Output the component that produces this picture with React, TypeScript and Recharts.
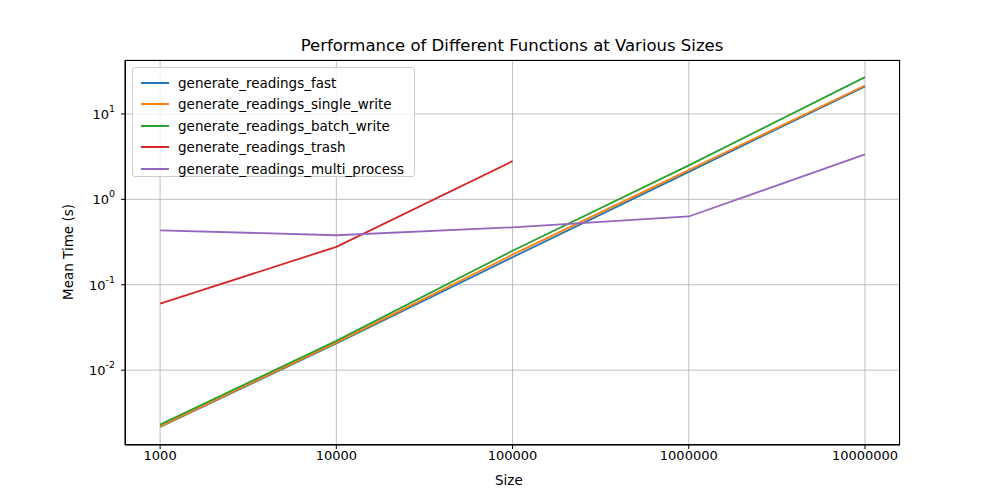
import { CartesianGrid, Line, LineChart, XAxis, YAxis } from 'recharts'

const sizes = [1000, 10000, 100000, 1000000, 10000000]
const fast = [0.00216, 0.0205, 0.21, 2.1, 21]
const singleWrite = [0.0022, 0.021, 0.225, 2.2, 21.5]
const batchWrite = [0.0023, 0.022, 0.25, 2.5, 27]
const trash = [0.06, 0.278, 2.8, null, null]
const multiProcess = [0.434, 0.38, 0.47, 0.63, 3.36]
const yTicks = [0.01, 0.1, 1, 10]

const series = [
  { key: 'fast', name: 'generate_readings_fast', color: '#1f77b4', values: fast },
  { key: 'single', name: 'generate_readings_single_write', color: '#ff7f0e', values: singleWrite },
  { key: 'batch', name: 'generate_readings_batch_write', color: '#2ca02c', values: batchWrite },
  { key: 'trash', name: 'generate_readings_trash', color: '#d62728', values: trash },
  { key: 'multi', name: 'generate_readings_multi_process', color: '#9467bd', values: multiProcess },
]

const data = sizes.map((size, i) => {
  const row: Record<string, number | null> = { size }
  series.forEach((s) => (row[s.key] = s.values[i]))
  return row
})

const font = '"DejaVu Sans", sans-serif'

function YTick({ x, y, payload }: any) {
  const exp = Math.round(Math.log10(payload.value))
  return (
    <text x={x - 4} y={y + 5} textAnchor="end" fontSize={13} fill="#000" fontFamily={font}>
      10
      <tspan dy={-7} fontSize={9.5}>{exp}</tspan>
    </text>
  )
}

export default function App() {
  return (
    <div style={{ position: 'absolute', left: 0, top: 0, width: 1000, height: 500, background: '#fff', fontFamily: font }}>
      <div style={{ position: 'absolute', top: 36, width: 1000, left: 12, textAlign: 'center', fontSize: 16.5 }}>
        Performance of Different Functions at Various Sizes
      </div>
      <LineChart width={1000} height={500} data={data} margin={{ top: 60, right: 100, bottom: 25, left: 65 }}>
        <CartesianGrid stroke="#b0b0b0" strokeWidth={0.8} />
        <XAxis
          dataKey="size"
          type="number"
          scale="log"
          domain={[632, 15800000]}
          ticks={sizes}
          allowDataOverflow
          stroke="#000"
          tick={{ fontSize: 13, fill: '#000', fontFamily: font }}
          tickSize={4}
          height={30}
        />
        <YAxis
          type="number"
          scale="log"
          domain={[0.00133, 42.8]}
          ticks={yTicks}
          allowDataOverflow
          stroke="#000"
          tick={<YTick />}
          tickSize={4}
          width={60}
        />
        {series.map((s) => (
          <Line
            key={s.key}
            dataKey={s.key}
            name={s.name}
            stroke={s.color}
            strokeWidth={1.8}
            dot={false}
            isAnimationActive={false}
          />
        ))}
      </LineChart>
      <div style={{ position: 'absolute', left: 125, top: 60, width: 775, height: 385, border: '1px solid #000', boxSizing: 'border-box', pointerEvents: 'none' }} />
      <div style={{ position: 'absolute', left: 495, top: 472, fontSize: 13.5 }}>Size</div>
      <div style={{ position: 'absolute', left: 68, top: 252, fontSize: 13.5, transform: 'translate(-50%, -50%) rotate(-90deg)', whiteSpace: 'nowrap' }}>
        Mean Time (s)
      </div>
      <div style={{ position: 'absolute', left: 132, top: 67, width: 283, height: 110, border: '1px solid #ccc', borderRadius: 3, background: 'rgba(255,255,255,0.8)', boxSizing: 'border-box', padding: '4px 8px', fontSize: 13.5 }}>
        {series.map((s) => (
          <div key={s.key} style={{ display: 'flex', alignItems: 'center', height: 21.5 }}>
            <span style={{ display: 'inline-block', width: 28, height: 2, background: s.color, marginRight: 9 }} />
            {s.name}
          </div>
        ))}
      </div>
    </div>
  )
}
